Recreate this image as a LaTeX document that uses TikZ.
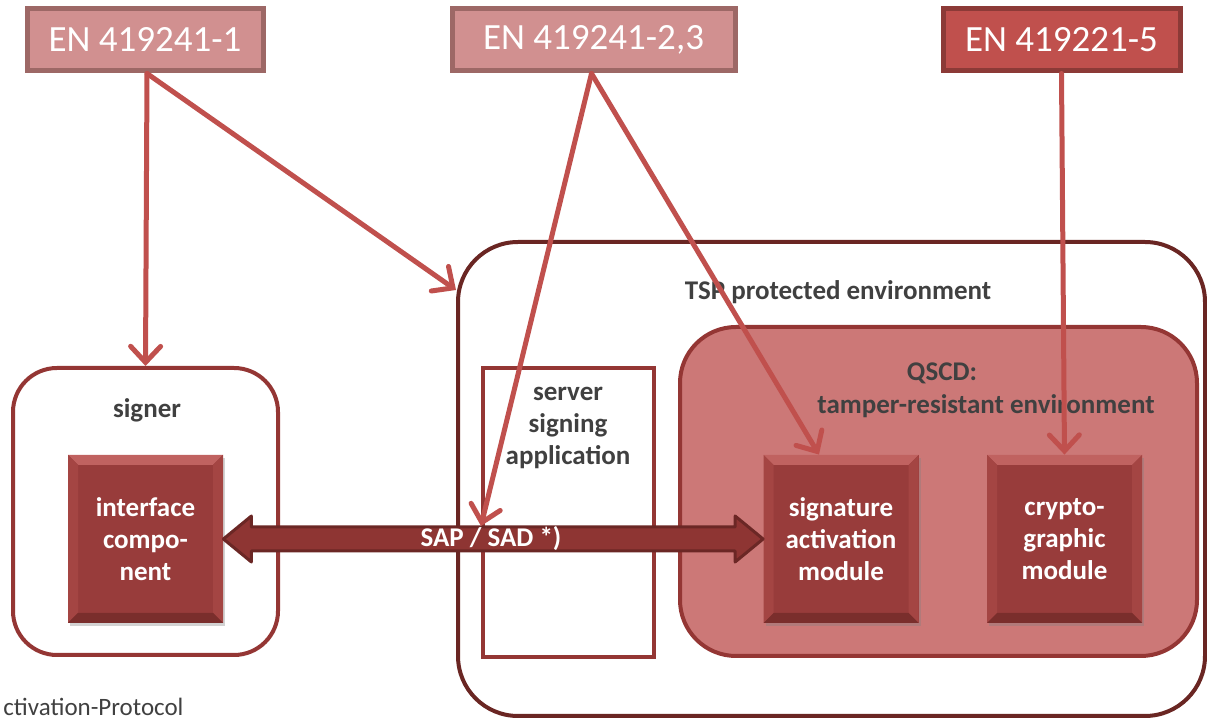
\documentclass[tikz,border=0pt]{standalone}
\usepackage{fontspec}
\setmainfont{Carlito}
\usetikzlibrary{arrows.meta,calc,shadows}
\definecolor{enfill}{HTML}{D19090}
\definecolor{enline}{HTML}{9D6866}
\definecolor{enfilldark}{HTML}{C0504D}
\definecolor{enlinedark}{HTML}{8C3A37}
\definecolor{linkred}{HTML}{C0504D}
\definecolor{boxline}{HTML}{943634}
\definecolor{tspline}{HTML}{6A2623}
\definecolor{qscdfill}{HTML}{CC7877}
\definecolor{modfill}{HTML}{983C3B}
\definecolor{modtop}{HTML}{C06260}
\definecolor{modside}{HTML}{A44543}
\definecolor{modlow}{HTML}{7A2E2C}
\definecolor{sapfill}{HTML}{8E3533}
\definecolor{sapline}{HTML}{6B2725}
\definecolor{labelgray}{HTML}{404040}
\begin{document}
\begin{tikzpicture}
  [x=0.5pt,y=-0.5pt,
   enbox/.style={draw=enline,fill=enfill,line width=2.5pt,text=white,
     font=\fontsize{18.5}{22}\selectfont,minimum height=31pt,inner sep=0pt},
   areabox/.style={draw=boxline,line width=2pt,rounded corners=22pt,inner sep=0pt},
   modbox/.style={fill=modfill,minimum width=77.5pt,minimum height=84pt,inner sep=0pt,
     text=white,align=center,font=\bfseries\fontsize{13.5}{16}\selectfont,
     drop shadow={opacity=0.35,shadow xshift=1pt,shadow yshift=-1.5pt},
     path picture={
       \fill[modtop] (path picture bounding box.north west) -- (path picture bounding box.north east)
         -- ([xshift=-5pt,yshift=-5pt]path picture bounding box.north east)
         -- ([xshift=5pt,yshift=-5pt]path picture bounding box.north west) -- cycle;
       \fill[modside] (path picture bounding box.north west) -- ([xshift=5pt,yshift=-5pt]path picture bounding box.north west)
         -- ([xshift=5pt,yshift=5pt]path picture bounding box.south west) -- (path picture bounding box.south west) -- cycle;
       \fill[modside] (path picture bounding box.north east) -- ([xshift=-5pt,yshift=-5pt]path picture bounding box.north east)
         -- ([xshift=-5pt,yshift=5pt]path picture bounding box.south east) -- (path picture bounding box.south east) -- cycle;
       \fill[modlow] (path picture bounding box.south west) -- (path picture bounding box.south east)
         -- ([xshift=-5pt,yshift=5pt]path picture bounding box.south east)
         -- ([xshift=5pt,yshift=5pt]path picture bounding box.south west) -- cycle;}},
   title/.style={text=labelgray,align=center,font=\bfseries\fontsize{13.5}{16}\selectfont,inner sep=0pt},
   link/.style={draw=linkred,line width=2.5pt,line cap=round,
     -{Straight Barb[length=8pt,width=15pt,line cap=round]}},
   sapshaft/.style={fill=sapfill,draw=sapline,line width=1.5pt,line join=round}]
  \path[use as bounding box] (0,0) rectangle (1207,721);
  \clip (0,0) rectangle (1207,721);

  % standard boxes
  \node[enbox,minimum width=118pt] (en1) at (145,40) {EN 419241-1};
  \node[enbox,minimum width=141.5pt] (en2) at (593.5,40) {EN 419241-2,3};
  \node[enbox,minimum width=118.5pt,draw=enlinedark,fill=enfilldark] (en3) at (1061.5,40) {EN 419221-5};

  % environments
  \node[areabox,draw=tspline,rounded corners=30pt,minimum width=373.5pt,minimum height=237pt] (tsp) at (831.5,479) {};
  \node[title] (tsplabel) at (838,292) {TSP protected environment};
  \node[areabox,fill=qscdfill,rounded corners=28pt,minimum width=258.5pt,minimum height=164.5pt] (qscd) at (938.5,491.5) {};
  \node[title] (qscdlabel) at (942,373) {QSCD:};
  \node[title] (tamperlabel) at (986,406) {tamper-resistant environment};
  \node[draw=boxline,line width=2pt,fill=white,minimum width=85.5pt,minimum height=144.5pt,inner sep=0pt] (ssa) at (568.5,512.5) {};
  \node[title] (ssalabel) at (568,428) {server\\signing\\application};
  \node[areabox,fill=white,minimum width=132.5pt,minimum height=143.5pt] (signer) at (145.5,511.5) {};
  \node[title] (signerlabel) at (147,410) {signer};

  % components
  \node[modbox] (intf) at (145.5,539) {interface\\compo-\\nent};
  \node[modbox] (sam) at (841,539) {signature\\activation\\module};
  \node[modbox] (crypto) at (1064.5,539) {crypto-\\graphic\\module};

  % SAP / SAD
  \draw[sapshaft] (intf.east) -- ++(28,-23) -- ++(0,11) -- ($(sam.west)+(-28,-12)$) -- ++(0,-11)
    -- (sam.west) -- ++(-28,23) -- ++(0,-11) -- ($(intf.east)+(28,12)$) -- ++(0,11) -- cycle;
  \node[text=white,font=\bfseries\fontsize{13.5}{16}\selectfont,inner sep=0pt] (saplabel) at (491,539) {SAP / SAD *)};

  \coordinate (tspin) at ($(tsp.north west)+(0,50)$);
  \coordinate (sapin) at (481,526);
  \coordinate (samin) at ($(sam.north)+(-22,0)$);

  \path
    ($(en1.south)+(2,0)$) edge[link] (signer.north)
                          edge[link] (tspin)
    ($(en2.south)+(-2,0)$) edge[link] (sapin)
                           edge[link] (samin)
    (en3.south) edge[link] (crypto.north);

  \node[anchor=base west,text=labelgray,font=\fontsize{12.5}{15}\selectfont,inner sep=0pt] (footnote) at (3,716) {ctivation-Protocol};
\end{tikzpicture}
\end{document}
